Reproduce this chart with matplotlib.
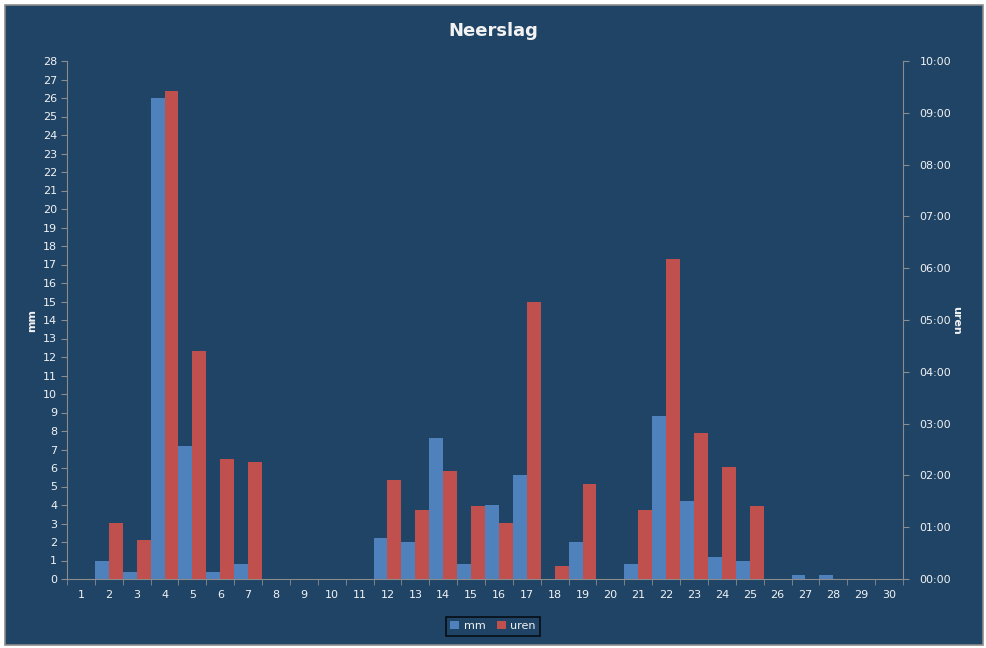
import matplotlib
matplotlib.use('Agg')
import matplotlib.pyplot as plt
from matplotlib.patches import Rectangle
from matplotlib.ticker import FuncFormatter, MultipleLocator

# Daily rain (mm) and rain duration (hours) per day of the month
days = list(range(1, 31))
mm = [0, 1.0, 0.4, 26.0, 7.2, 0.4, 0.8, 0, 0, 0,
      0, 2.2, 2.0, 7.6, 0.8, 4.0, 5.6, 0, 2.0, 0,
      0.8, 8.8, 4.2, 1.2, 1.0, 0, 0.2, 0.2, 0, 0]
uren = ['0:00', '1:05', '0:45', '9:25', '4:24', '2:19', '2:15', '0:00', '0:00', '0:00',
        '0:00', '1:55', '1:20', '2:05', '1:25', '1:05', '5:21', '0:15', '1:50', '0:00',
        '1:20', '6:11', '2:49', '2:10', '1:25', '0:00', '0:00', '0:00', '0:00', '0:00']
uren_h = [int(u.split(':')[0]) + int(u.split(':')[1]) / 60 for u in uren]

bg = '#1F4466'
blue = '#4F81BD'
red = '#C0504D'
grey = '#8C8C8C'
txt = '#F2F2F2'

fig = plt.figure(figsize=(9.87, 6.48), dpi=100)
fig.patch.set_facecolor('white')
fig.patches.append(Rectangle((5 / 987, 3 / 648), 978 / 987, 640 / 648,
                             transform=fig.transFigure, facecolor=bg,
                             edgecolor=grey, linewidth=1.2, zorder=-10))

ax = fig.add_axes([67 / 987, 1 - 579 / 648, 836 / 987, 518 / 648])
ax.set_facecolor('none')
ax2 = ax.twinx()

x = days
ax.bar([d - 0.25 for d in x], mm, width=0.5, color=blue, label='mm', zorder=2)
ax2.bar([d + 0.25 for d in x], uren_h, width=0.5, color=red, label='uren', zorder=2)

ax.set_xlim(0.5, 30.5)
ax.set_ylim(0, 28)
ax2.set_ylim(0, 10)

ax.yaxis.set_major_locator(MultipleLocator(1))
ax2.yaxis.set_major_locator(MultipleLocator(1))
ax2.yaxis.set_major_formatter(FuncFormatter(lambda v, p: '%02d:00' % int(round(v))))

ax.set_xticks(days)
ax.set_xticks([d + 0.5 for d in range(0, 31)], minor=True)
ax.tick_params(axis='x', which='major', length=0, pad=8, colors=txt, labelsize=8)
ax.tick_params(axis='x', which='minor', length=4, color=grey, direction='out')
ax.tick_params(axis='y', length=4, color=grey, colors=txt, labelsize=8, pad=3)
ax2.tick_params(axis='y', length=4, color=grey, colors=txt, labelsize=8, pad=8)

for a in (ax, ax2):
    for s in a.spines.values():
        s.set_visible(False)
ax.spines['left'].set_visible(True)
ax.spines['bottom'].set_visible(True)
ax2.spines['right'].set_visible(True)
ax.spines['left'].set_color(grey)
ax.spines['bottom'].set_color(grey)
ax2.spines['right'].set_color(grey)

ax.set_ylabel('mm', color=txt, fontsize=8, fontweight='bold', labelpad=4)
ax2.set_ylabel('uren', color=txt, fontsize=8, fontweight='bold', rotation=-90, labelpad=7)

fig.text(493 / 987, 1 - 31 / 648, 'Neerslag', ha='center', va='center',
         color=txt, fontsize=13, fontweight='bold')

h1, l1 = ax.get_legend_handles_labels()
h2, l2 = ax2.get_legend_handles_labels()
leg = fig.legend(h1 + h2, l1 + l2, loc='center', bbox_to_anchor=(493 / 987, 1 - 626 / 648),
                 ncol=2, fontsize=8, frameon=True, fancybox=False,
                 handlelength=0.8, handleheight=0.8, handletextpad=0.4,
                 columnspacing=1.0, borderpad=0.4, labelcolor=txt)
leg.get_frame().set_facecolor(bg)
leg.get_frame().set_edgecolor('black')
leg.get_frame().set_linewidth(1.2)

fig.savefig('out.png', dpi=100, facecolor=fig.get_facecolor())
